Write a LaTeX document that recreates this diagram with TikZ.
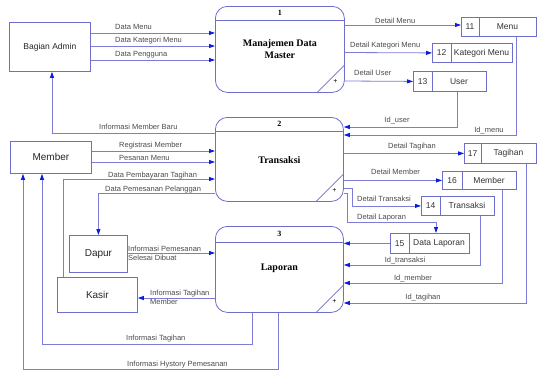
\documentclass[tikz,border=0pt]{standalone}
\usepackage{fontspec}
\setmainfont{Liberation Sans}
\newfontfamily\procfont{Liberation Serif}
\usetikzlibrary{arrows.meta,calc}
\definecolor{lineblue}{RGB}{125,125,215}
\definecolor{boxblue}{RGB}{110,110,205}
\definecolor{tipblue}{RGB}{10,30,220}
\definecolor{txtgray}{RGB}{75,75,75}
\newcommand\mkstore[8]{%
  \node[storebox,minimum width=#4pt,minimum height=#5pt] (#1) at (#2,#3) {};
  \draw[boxline] ($(#1.north west)+(#6,0)$) -- ($(#1.south west)+(#6,0)$);
  \node[storetxt] (#1n) at ($(#1.west)+({#6/2},0)$) {#7};
  \node[storetxt] (#1t) at ($(#1.west)+({(#6+#4)/2},0)$) {#8};
}
\newcommand\procdeco[3]{%
  \draw[boxline] ($(#1.north west)+(0,#2)$) -- ($(#1.north east)+(0,#2)$);
  \draw[boxline] ($(#1.south east)+(-28,0)$) -- ($(#1.south east)+(0,-28)$);
  \node[procnum] (#1num) at ($(#1.north)+(0,{#2/2})$) {#3};
  \node[plusmark] (#1plus) at ($(#1.south east)+(-9.5,-11)$) {+};
}
\begin{document}
\begin{tikzpicture}[x=1pt,y=-1pt,
  flow/.style={draw=lineblue,line width=0.8pt,-{Triangle[length=6pt,width=4pt,color=tipblue]}},
  boxline/.style={draw=boxblue,line width=0.8pt},
  extbox/.style={draw=boxblue,line width=0.8pt,fill=white,inner sep=0pt,anchor=north west,
    font=\fontsize{10}{12}\selectfont,text=black!85},
  procbox/.style={draw=boxblue,line width=0.8pt,rounded corners=12pt,inner sep=0pt,anchor=north west},
  storebox/.style={draw=boxblue,line width=0.8pt,inner sep=0pt,anchor=north west},
  storetxt/.style={font=\fontsize{8.5}{10}\selectfont,text=black!80,inner sep=0pt},
  procnum/.style={font=\procfont\bfseries\fontsize{8}{9}\selectfont,inner sep=0pt},
  proctitle/.style={font=\procfont\bfseries\fontsize{10}{11.5}\selectfont,align=center,inner sep=0pt},
  plusmark/.style={font=\fontsize{7}{8}\selectfont,inner sep=0pt},
  lbl/.style={font=\fontsize{7.5}{9}\selectfont,text=txtgray,inner sep=0pt},
  lblw/.style={lbl,anchor=base west},
  lblc/.style={lbl,anchor=base}
]
\useasboundingbox (0,0) rectangle (538,375);
\fill[white] (0,0) rectangle (538,375);

% external entities
\node[extbox,minimum width=81pt,minimum height=49pt,font=\fontsize{8.5}{10}\selectfont] (admin) at (9,22) {Bagian Admin};
\node[extbox,minimum width=81pt,minimum height=32pt] (member) at (10,141) {Member};
\node[extbox,minimum width=58pt,minimum height=37pt] (dapur) at (69,235) {Dapur};
\node[extbox,minimum width=80pt,minimum height=35pt] (kasir) at (57,277) {Kasir};

% processes
\node[procbox,minimum width=129pt,minimum height=86pt] (p1) at (215,6) {};
\node[procbox,minimum width=128pt,minimum height=84pt] (p2) at (215,117) {};
\node[procbox,minimum width=128pt,minimum height=86pt] (p3) at (215,226) {};
\procdeco{p1}{14}{1}
\procdeco{p2}{14}{2}
\procdeco{p3}{16}{3}
\node[proctitle] (p1title) at ($(p1.north)+(0,43)$) {Manajemen Data\\Master};
\node[proctitle] (p2title) at ($(p2.north)+(0,43)$) {Transaksi};
\node[proctitle] (p3title) at ($(p3.north)+(0,42)$) {Laporan};

% data stores
\mkstore{s11}{461}{17}{75}{19}{18}{11}{Menu}
\mkstore{s12}{432}{43}{80}{19}{19}{12}{Kategori Menu}
\mkstore{s13}{413}{71}{73}{20}{19}{13}{User}
\mkstore{s17}{464}{143}{72}{20}{17}{17}{Tagihan}
\mkstore{s16}{442}{171}{74}{18}{20}{16}{Member}
\mkstore{s14}{421}{196}{73}{19}{19}{14}{Transaksi}
\mkstore{s15}{390}{233}{79}{20}{19}{15}{Data Laporan}

% admin -> process 1
\draw[flow] (admin.east |- 0,33) -- (p1.west |- 0,33);
\draw[flow] (admin.east |- 0,46) -- (p1.west |- 0,46);
\draw[flow] (admin.east |- 0,60) -- (p1.west |- 0,60);
\node[lblw] (l1) at (115,29) {Data Menu};
\node[lblw] (l2) at (115,42) {Data Kategori Menu};
\node[lblw] (l3) at (115,56) {Data Pengguna};

% process 2 -> admin
\draw[flow] (p2.west |- 0,133) -| (admin.south -| 52,0);
\node[lblw] (l4) at (99,129.5) {Informasi Member Baru};

% member -> process 2
\draw[flow] (member.east |- 0,151) -- (p2.west |- 0,151);
\draw[flow] (member.east |- 0,162) -- (p2.west |- 0,162);
\node[lblw] (l5) at (119,147.5) {Registrasi Member};
\node[lblw] (l6) at (119,160.5) {Pesanan Menu};

% kasir -> process 2
\draw[flow] (kasir.north -| 63,0) |- (p2.west |- 0,179);
\node[lblw] (l7) at (108,177) {Data Pembayaran Tagihan};

% process 2 -> dapur
\draw[flow] (p2.west |- 0,193) -| (dapur.north);
\node[lblw] (l8) at (105,191) {Data Pemesanan Pelanggan};

% dapur -> process 3
\draw[flow] (dapur.east |- 0,253) -- (p3.west |- 0,253);
\node[lbl,anchor=west,align=left] (l9) at (128,253.5) {Informasi Pemesanan\\Selesai Dibuat};

% process 3 -> kasir
\draw[flow] (p3.west |- 0,298) -- (kasir.east |- 0,298);
\node[lbl,anchor=west,align=left] (l10) at (150,297.5) {Informasi Tagihan\\Member};

% process 3 -> member
\draw[flow] (p3.south -| 252,0) |- (42,344) -- (member.south -| 42,0);
\node[lblw] (l11) at (126,340.5) {Informasi Tagihan};
\draw[flow] (p3.south -| 278,0) |- (23,369) -- (member.south -| 23,0);
\node[lblw] (l12) at (127,366) {Informasi Hystory Pemesanan};

% process 1 -> stores
\draw[flow] (p1.east |- 0,25) -- (s11.west |- 0,25);
\draw[flow] (p1.east |- 0,52.5) -- (s12.west);
\draw[flow] (p1.east |- 0,81) -- (s13.west);
\node[lblw] (l13) at (375,23.5) {Detail Menu};
\node[lblw] (l14) at (350,47.5) {Detail Kategori Menu};
\node[lblw] (l15) at (354,75.5) {Detail User};

% stores -> process 2
\draw[flow] (s13.south -| 457,0) |- (p2.east |- 0,127);
\draw[flow] (s11.south -| 516,0) |- (p2.east |- 0,135);
\node[lblc] (l16) at (397,122.5) {Id\_user};
\node[lblc] (l17) at (489,132.5) {Id\_menu};

% process 2 -> stores
\draw[flow] (p2.east |- s17.west) -- (s17.west);
\draw[flow] (p2.east |- s16.west) -- (s16.west);
\draw[flow] (p2.east |- 0,188) -| (s14.west -| 352,0) -- (s14.west);
\draw[flow] (p2.east |- 0,193) -| (347,222) -| (s15.north -| 436,0);
\node[lblw] (l18) at (388,148.5) {Detail Tagihan};
\node[lblw] (l19) at (371,174.5) {Detail Member};
\node[lblw] (l20) at (357,201.5) {Detail Transaksi};
\node[lblw] (l21) at (357,219.5) {Detail Laporan};

% stores -> process 3
\draw[flow] (s15.west) -- (p3.east |- s15.west);
\draw[flow] (s14.south -| 480,0) |- (p3.east |- 0,265);
\draw[flow] (s16.south -| 502,0) |- (p3.east |- 0,283);
\draw[flow] (s17.south -| 526,0) |- (p3.east |- 0,303);
\node[lblc] (l22) at (405,262) {Id\_transaksi};
\node[lblc] (l23) at (413,280.5) {Id\_member};
\node[lblc] (l24) at (423,299.5) {Id\_tagihan};
\end{tikzpicture}
\end{document}
